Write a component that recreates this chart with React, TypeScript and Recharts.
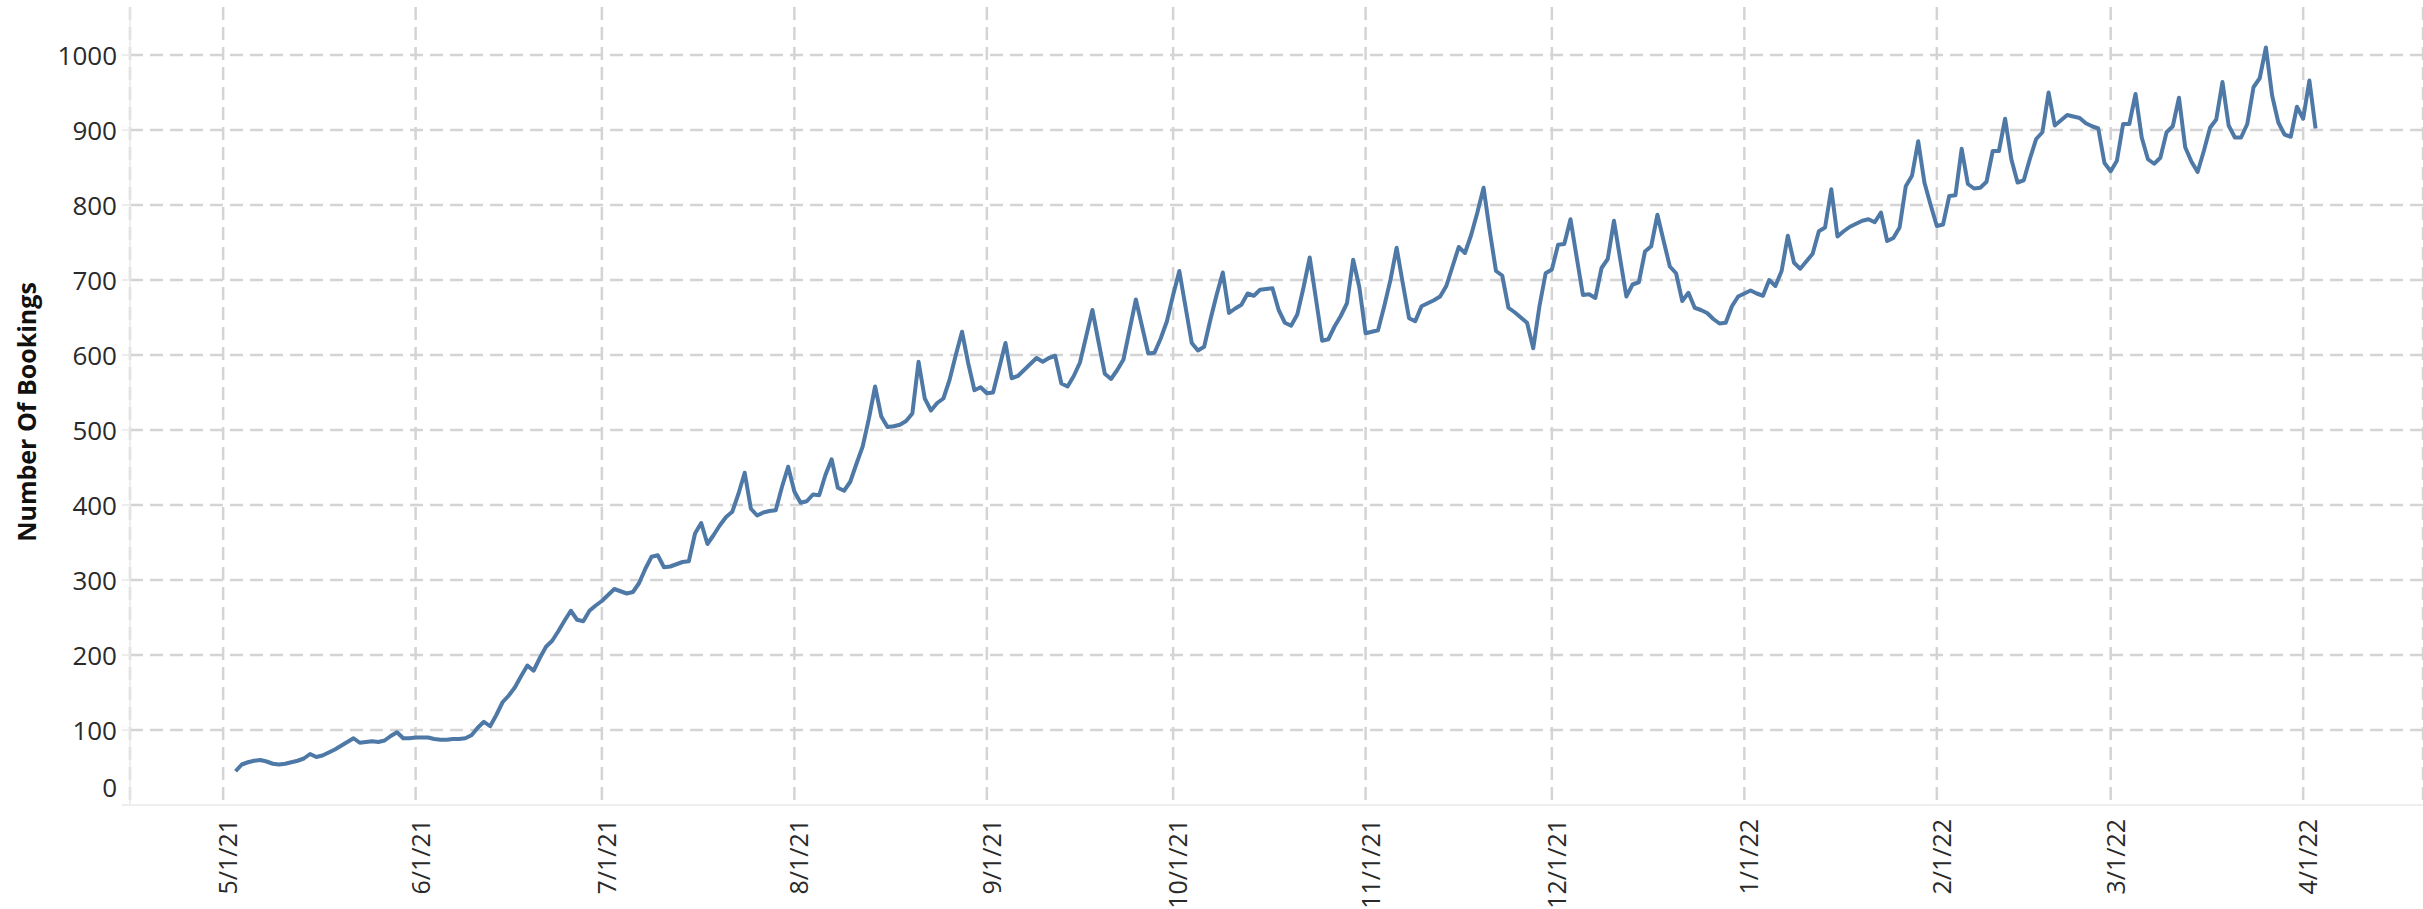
import { LineChart, Line, XAxis, YAxis, CartesianGrid } from 'recharts';

// x axis is "days since 5/1/21"; ticks sit on the first of each month
const monthStartDays = [0, 31, 61, 92, 123, 153, 184, 214, 245, 276, 304, 335];
const monthLabels = ['5/1/21', '6/1/21', '7/1/21', '8/1/21', '9/1/21', '10/1/21', '11/1/21', '12/1/21', '1/1/22', '2/1/22', '3/1/22', '4/1/22'];
const yTicks = [0, 100, 200, 300, 400, 500, 600, 700, 800, 900, 1000];

// series starts on 5/3/21
const seriesStartDay = 2;

// daily bookings, one array per month
const may21 = [45, 54, 57, 59, 60, 58, 55, 54, 55, 57, 59, 62, 68, 64, 66, 70, 74, 79, 84, 89, 83, 84, 85, 84, 86, 92, 97, 89, 89];
const jun21 = [90, 90, 90, 88, 87, 87, 88, 88, 89, 93, 103, 111, 105, 120, 137, 146, 157, 172, 186, 179, 196, 211, 219, 232, 246, 259, 247, 245, 259, 266];
const jul21 = [272, 280, 288, 285, 282, 284, 296, 315, 331, 333, 317, 318, 321, 324, 325, 362, 376, 348, 360, 373, 384, 391, 415, 443, 395, 386, 390, 392, 393, 424, 451];
const aug21 = [418, 403, 405, 414, 413, 440, 461, 423, 419, 431, 455, 478, 515, 558, 518, 504, 505, 507, 512, 522, 591, 542, 526, 536, 542, 567, 600, 631, 589, 553, 557];
const sep21 = [549, 550, 583, 616, 569, 572, 580, 588, 596, 591, 596, 599, 562, 558, 572, 590, 625, 660, 617, 575, 568, 580, 594, 634, 674, 638, 602, 603, 622, 645];
const oct21 = [680, 712, 664, 616, 606, 611, 647, 680, 710, 656, 662, 667, 682, 679, 687, 688, 689, 660, 643, 639, 654, 690, 730, 675, 619, 621, 638, 652, 669, 727, 690];
const nov21 = [629, 631, 633, 665, 700, 743, 695, 649, 645, 665, 669, 673, 678, 692, 718, 744, 736, 760, 790, 823, 765, 712, 706, 663, 657, 650, 643, 609, 665, 709];
const dec21 = [714, 747, 748, 781, 730, 680, 681, 676, 716, 728, 779, 728, 678, 694, 697, 738, 745, 787, 752, 718, 709, 672, 683, 663, 660, 656, 648, 642, 643, 665, 678];
const jan22 = [682, 686, 682, 679, 700, 692, 712, 759, 723, 715, 725, 735, 765, 770, 821, 758, 765, 771, 775, 779, 781, 777, 790, 752, 756, 770, 825, 839, 885, 830, 800];
const feb22 = [772, 774, 812, 813, 875, 828, 822, 823, 831, 872, 872, 915, 861, 830, 833, 862, 888, 897, 950, 906, 913, 920, 918, 916, 909, 905, 902, 856];
const mar22 = [845, 859, 908, 908, 948, 890, 861, 855, 863, 897, 905, 943, 877, 858, 844, 872, 903, 914, 964, 906, 890, 890, 908, 957, 969, 1010, 946, 910, 894, 891, 931];
const apr22 = [915, 966, 902];

const months = [may21, jun21, jul21, aug21, sep21, oct21, nov21, dec21, jan22, feb22, mar22, apr22];

const data = months.flatMap((vals, m) => {
  const first = m === 0 ? seriesStartDay : monthStartDays[m];
  return vals.map((v, i) => ({ day: first + i, bookings: v }));
});

const FONT = '"Open Sans", "DejaVu Sans", sans-serif';

function XTick({ x, y, payload }: any) {
  const label = monthLabels[monthStartDays.indexOf(payload.value)];
  const tx = x + 4;
  const ty = y + 14;
  return (
    <text
      x={tx}
      y={ty}
      transform={`rotate(-90, ${tx}, ${ty})`}
      textAnchor="end"
      dominantBaseline="central"
      fontFamily={FONT}
      fontSize={25}
      fill="#2a2a2a"
    >
      {label}
    </text>
  );
}

function YTick({ x, y, payload }: any) {
  // bottom label is nudged up so it stays inside the plot, like the original
  const shift = payload.value === 0 ? -18 : 0;
  return (
    <text
      x={x}
      y={y + shift}
      textAnchor="end"
      dominantBaseline="central"
      fontFamily={FONT}
      fontSize={26}
      fill="#2a2a2a"
    >
      {payload.value}
    </text>
  );
}

function YTitle({ viewBox }: any) {
  const cx = 26;
  const cy = viewBox.y + viewBox.height / 2 + 6;
  return (
    <text
      x={cx}
      y={cy}
      transform={`rotate(-90, ${cx}, ${cy})`}
      textAnchor="middle"
      dominantBaseline="central"
      fontFamily={FONT}
      fontWeight={700}
      fontSize={25}
      fill="#111"
    >
      Number Of Bookings
    </text>
  );
}

export default function App() {
  return (
    <div style={{ position: 'absolute', left: 0, top: 0, width: 2423, height: 909, background: '#fff' }}>
      <LineChart width={2423} height={909} data={data} margin={{ top: 7, right: 0, left: 0, bottom: 0 }}>
        <CartesianGrid
          stroke="#d4d4d4"
          strokeWidth={2.5}
          strokeDasharray="13 7"
          horizontalValues={yTicks.slice(1)}
        />
        <XAxis
          type="number"
          dataKey="day"
          domain={[-15, 354.3]}
          ticks={monthStartDays}
          interval={0}
          allowDataOverflow
          height={104}
          tickSize={0}
          tickMargin={0}
          tickLine={false}
          axisLine={{ stroke: '#e8e8e8', strokeWidth: 1.5 }}
          tick={<XTick />}
        />
        <YAxis
          type="number"
          domain={[0, 1064]}
          ticks={yTicks}
          interval={0}
          allowDataOverflow
          width={130}
          tickSize={8}
          tickMargin={5}
          tickLine={{ stroke: '#e8e8e8', strokeWidth: 1.5 }}
          axisLine={{ stroke: '#e8e8e8', strokeWidth: 1.5 }}
          tick={<YTick />}
          label={<YTitle />}
        />
        <Line
          type="linear"
          dataKey="bookings"
          stroke="#4e79a7"
          strokeWidth={4}
          strokeLinejoin="round"
          dot={false}
          activeDot={false}
          isAnimationActive={false}
        />
      </LineChart>
    </div>
  );
}
